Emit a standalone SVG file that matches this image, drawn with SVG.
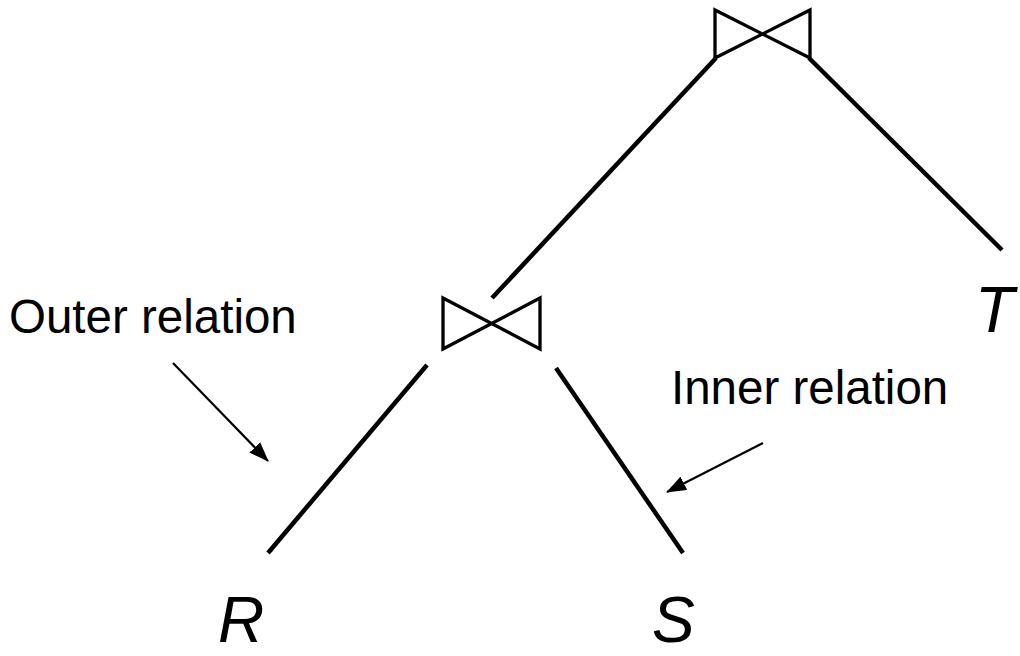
<svg xmlns="http://www.w3.org/2000/svg" width="1020" height="656" viewBox="0 0 1020 656">
<style>
.edge{stroke:#000;stroke-width:4.5;fill:none}
.bow{stroke:#000;stroke-width:3.3;fill:none;stroke-linejoin:miter}
.arr{stroke:#000;stroke-width:2.2;fill:none}
.lbl{font-family:"Liberation Sans",Arial,sans-serif;font-size:47.5px;fill:#000}
.rel{font-family:"Liberation Sans",Arial,sans-serif;font-size:64px;font-style:italic;fill:#000}
</style>
<defs>
<marker id="ah" viewBox="0 0 20 15" refX="19" refY="7.5" markerWidth="20" markerHeight="15" orient="auto" markerUnits="userSpaceOnUse">
<path d="M0,0 L20,7.5 L0,15 z" fill="#000"/>
</marker>
</defs>
<g id="connectors">
<line class="edge" x1="716" y1="58" x2="492" y2="298"/>
<line class="edge" x1="809" y1="58" x2="1002" y2="250"/>
<line class="edge" x1="427" y1="365" x2="268" y2="553"/>
<line class="edge" x1="556" y1="368" x2="683" y2="553"/>
<line class="arr" x1="173" y1="363" x2="268" y2="461" marker-end="url(#ah)"/>
<line class="arr" x1="763" y1="443" x2="667" y2="492" marker-end="url(#ah)"/>
</g>
<g id="join-top">
<path class="bow" d="M715,10 L715,58 L810,10 L810,58 Z"/>
</g>
<g id="join-bottom">
<path class="bow" d="M443,298 L443,349 L540,298 L540,349 Z"/>
</g>
<g id="label-outer"><text class="lbl" x="9" y="333">Outer relation</text></g>
<g id="label-inner"><text class="lbl" x="671" y="404">Inner relation</text></g>
<g id="node-R"><text class="rel" x="218" y="642">R</text></g>
<g id="node-S"><text class="rel" x="652" y="642">S</text></g>
<g id="node-T"><text class="rel" x="975" y="332">T</text></g>
</svg>
